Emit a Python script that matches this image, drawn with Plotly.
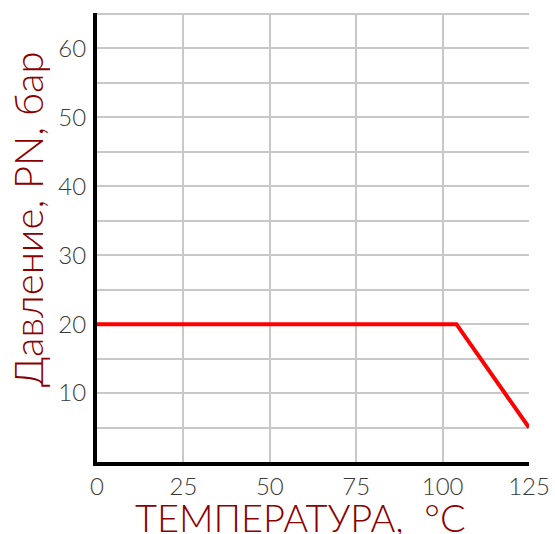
import plotly.graph_objects as go

temperature = [0, 104, 125]
pressure = [20, 20, 5]

x_ticks = [0, 25, 50, 75, 100, 125]
y_ticks = list(range(0, 70, 5))
y_labels = ["" if v % 10 or v == 0 else str(v) for v in y_ticks]

x_title = "ТЕМПЕРАТУРА,  °C"
y_title = "Давление, PN, бар"

title_color = "#8B0000"
tick_font = dict(family="Lato, DejaVu Sans", size=24, color="#3a3a3a", weight=300)
x_title_font = dict(family="Lato, DejaVu Sans", size=38, color=title_color, weight=300)
y_title_font = dict(family="Lato, DejaVu Sans", size=40, color=title_color, weight=300)

L, R, T, B = 97, 26, 13, 72
W, H = 555, 534
pw, ph = W - L - R, H - T - B

fig = go.Figure()
fig.add_trace(go.Scatter(
    x=temperature, y=pressure, mode="lines",
    line=dict(color="#FF0000", width=4), showlegend=False, hoverinfo="skip",
))

fig.update_layout(
    width=W, height=H,
    margin=dict(l=L, r=R, t=T, b=B, autoexpand=False),
    paper_bgcolor="white", plot_bgcolor="white",
    xaxis=dict(
        range=[0, 125], tickvals=x_ticks, ticktext=[str(v) for v in x_ticks],
        showgrid=True, gridcolor="#c8c8c8", gridwidth=1.5,
        showline=True, linecolor="black", linewidth=4,
        zeroline=False, ticks="", tickfont=tick_font,
    ),
    yaxis=dict(
        range=[0, 65.15], tickvals=y_ticks, ticktext=y_labels,
        showgrid=True, gridcolor="#c8c8c8", gridwidth=1.5,
        showline=True, linecolor="black", linewidth=4,
        zeroline=False, ticks="", tickfont=tick_font, ticklabelstandoff=2,
    ),
    annotations=[
        dict(text=x_title, x=(300 - L) / pw, y=(H - B - 517) / ph,
             xref="paper", yref="paper", xanchor="center", yanchor="middle",
             showarrow=False, font=x_title_font),
        dict(text=y_title, x=(28 - L) / pw, y=(H - B - 220) / ph,
             xref="paper", yref="paper", xanchor="center", yanchor="middle",
             showarrow=False, textangle=-90, font=y_title_font),
    ],
)

fig.write_html(
    "out.html",
    config={"displayModeBar": False},
    post_script="document.body.style.margin='0';document.body.style.overflow='hidden';",
)
